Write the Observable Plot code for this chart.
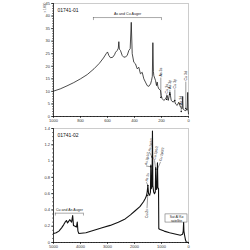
<!DOCTYPE html>
<html><head><meta charset="utf-8">
<script src="https://cdn.jsdelivr.net/npm/d3@7"></script>
<script src="https://cdn.jsdelivr.net/npm/@observablehq/plot@0.6"></script>
<style>body{margin:0;background:#fff}#c svg{display:block}</style>
</head><body><div id="c"></div>
<script>
// ---- Panel 1 (01741-01) ----
const topEnergy = [1000,950,900,850,800,750,700,660,630,610,600,590,578,561,548,540,528,520,516,512,504,491,479,465,454,442,432,424,417,405,393,380,368,356,343,331,319,306,294,281,274,268,264,260,257,244,237,232,227,220,212,207,202,196,183,170,158,150,138,128,113,104,96,84,72,59,47,43,40,30,20,14,10,6,3,0];
const topCounts = [10.1,11.0,12.2,13.5,15.0,16.7,19.0,21.2,23.3,25.0,25.7,24.3,23.4,23.6,24.6,25.6,26.3,27.2,29.8,26.8,26.3,24.3,23.6,23.8,24.3,26.3,27.0,37.5,25.0,21.6,21.0,19.0,19.6,17.0,17.6,15.0,13.7,12.3,12.0,13.0,14.3,16.0,29.4,18.0,16.3,14.3,12.3,13.7,12.0,11.0,10.6,10.4,8.4,7.2,6.4,7.0,8.4,6.4,9.7,6.4,5.7,6.4,5.0,4.4,5.7,3.7,3.1,8.0,3.0,2.5,2.3,3.0,2.5,9.6,3.0,1.0];
const topLabels = ["As 3s","Cu 3s","As 3p","Cu 3p","As 3d","Cu 3d"];
const topLabelE = [205,162,138,101,54,20];
const topLabelText = [15.9,9.2,11.0,11.2,4.6,14.3];
const topLabelDot = [7.6,6.8,8.8,6.4,2.0,3.2];
const topAuger = "As and Cu Auger";
const topAugerRange = [704,200];
const topAugerY = 39.4;
const topXTicks = [1000,800,600,400,200,0];
const topYTicks = [0,5,10,15,20,25,30,35,40,45];

// ---- Panel 2 (01741-02) ----
const botEnergy = [5000,4900,4800,4700,4620,4570,4520,4480,4440,4400,4330,4290,4260,4200,4150,4120,4095,4060,3800,3500,3200,2900,2600,2345,2150,1975,1800,1667,1600,1560,1530,1505,1480,1440,1410,1395,1380,1350,1335,1320,1290,1260,1230,1215,1200,1170,1150,1135,1110,1100,1050,900,700,500,300,220,195,180,170,140,110,80,0];
const botCounts = [0.11,0.12,0.14,0.18,0.22,0.25,0.27,0.24,0.26,0.28,0.25,0.33,0.21,0.20,0.19,0.25,0.14,0.11,0.12,0.15,0.18,0.21,0.25,0.29,0.34,0.39,0.44,0.50,0.54,0.57,0.62,0.70,0.60,0.58,0.62,0.95,0.66,0.70,1.37,0.70,0.62,0.60,0.62,0.92,0.65,0.66,0.98,0.68,0.66,0.17,0.16,0.14,0.12,0.105,0.09,0.10,0.14,0.25,0.14,0.08,0.03,0.005,0];
const botLabels = ["As 2p1/2","As 2p3/2","Cu 2p1/2","Cu 2p3/2","As 2s"];
const botLabelE = [1574,1444,1259,1037,1556];
const botLabelText = [0.95,1.12,1.02,1.00,0.75];
const botLabelDotE = [1395,1352,1215,1150,1505];
const botLabelDot = [0.93,1.05,0.90,0.90,0.70];
const botLabelBelow = "Cu 2s";
const botAuger = "Cu and As Auger";
const botAugerRange = [4930,3890];
const botAugerY = 0.36;
const satLines = ["Sat Al K\u03b1","satellite"];
const botXTicks = [5000,4000,3000,2000,1000,0];
const botYTicks = [0,0.2,0.4,0.6,0.8,1,1.2,1.4];

const font = "Liberation Sans, Arial, sans-serif";

function axes(xDom, yDom, xMajor, xMinor, yMajor, yMinor) {
  return [
    Plot.frame({stroke: "#aaa", strokeWidth: 0.6}),
    Plot.axisX(xMinor, {tickSize: 1, tickFormat: () => "", strokeWidth: 0.5}),
    Plot.axisX(xMajor, {tickSize: 2, tickPadding: 0.5, strokeWidth: 0.6, fill: "#333", fontSize: 4, tickFormat: d => String(d)}),
    Plot.axisY(yMinor, {tickSize: 1, tickFormat: () => "", strokeWidth: 0.5}),
    Plot.axisY(yMajor, {tickSize: 2, tickPadding: 1.5, strokeWidth: 0.6, fill: "#333", fontSize: 4, tickFormat: d => String(+(+d).toFixed(1))}),
    Plot.ruleX([xDom[0]], {stroke: "#000", strokeWidth: 0.7}),
    Plot.ruleY([yDom[0]], {stroke: "#000", strokeWidth: 0.7})
  ];
}

// Top panel
const topData = topEnergy.map((e, i) => ({e, c: topCounts[i]}));
const topLab = topLabels.map((t, i) => ({t, e: topLabelE[i], yt: topLabelText[i], yd: topLabelDot[i]}));
const p1 = Plot.plot({
  width: 250, height: 125,
  marginLeft: 53, marginRight: 62, marginTop: 3, marginBottom: 9,
  style: {fontSize: "4px", fontFamily: font, background: "#fff"},
  x: {domain: [1000, 0], label: null},
  y: {domain: [0, 45], label: null},
  marks: [
    ...axes([1000,0],[0,45], topXTicks, d3.range(0, 1001, 25), topYTicks, d3.range(0, 46, 1)),
    Plot.line(topData, {x: "e", y: "c", stroke: "#111", strokeWidth: 0.75}),
    Plot.link(topLab, {x1: "e", x2: "e", y1: "yd", y2: d => d.yt - 0.4, stroke: "#222", strokeWidth: 0.45}),
    Plot.dot(topLab, {x: "e", y: "yd", r: 0.7, fill: "#000"}),
    Plot.text(topLab, {x: "e", y: "yt", text: "t", rotate: -90, textAnchor: "start", fontSize: 3.6, fill: "#222"}),
    Plot.ruleY([topAugerY], {x1: topAugerRange[0], x2: topAugerRange[1], stroke: "#555", strokeWidth: 0.5}),
    Plot.ruleX(topAugerRange, {y1: topAugerY - 1.2, y2: topAugerY, stroke: "#555", strokeWidth: 0.5}),
    Plot.text([topAuger], {x: (topAugerRange[0] + topAugerRange[1]) / 2, y: topAugerY + 1.3, fontSize: 3.6, fill: "#222"}),
    Plot.text(["01741-01"], {frameAnchor: "top-left", dx: 4, dy: 5, fontSize: 5, fill: "#111"}),
    Plot.text(["x 1000"], {frameAnchor: "top-left", dx: -10, dy: 9, rotate: -90, fontSize: 3.3, fill: "#666"})
  ]
});

// Bottom panel
const botData = botEnergy.map((e, i) => ({e, c: botCounts[i]}));
const botLab = botLabels.map((t, i) => ({t, e: botLabelE[i], yt: botLabelText[i], de: botLabelDotE[i], yd: botLabelDot[i]}));
const p2 = Plot.plot({
  width: 250, height: 125,
  marginLeft: 53, marginRight: 62, marginTop: 3, marginBottom: 8,
  style: {fontSize: "4px", fontFamily: font, background: "#fff"},
  x: {domain: [5000, 0], label: null},
  y: {domain: [0, 1.4], label: null},
  marks: [
    ...axes([5000,0],[0,1.4], botXTicks, d3.range(0, 5001, 100), botYTicks, d3.range(0, 1.41, 0.05)),
    Plot.line(botData, {x: "e", y: "c", stroke: "#111", strokeWidth: 1.1}),
    Plot.link(botLab, {x1: "e", y1: d => d.yt - 0.01, x2: "de", y2: "yd", stroke: "#222", strokeWidth: 0.45}),
    Plot.dot(botLab, {x: "de", y: "yd", r: 0.7, fill: "#000"}),
    Plot.text(botLab, {x: "e", y: "yt", text: "t", rotate: -80, textAnchor: "start", fontSize: 3.4, fill: "#222"}),
    Plot.link([{x1: 1537, y1: 0.42, x2: 1510, y2: 0.58}], {x1: "x1", y1: "y1", x2: "x2", y2: "y2", stroke: "#222", strokeWidth: 0.45}),
    Plot.dot([{x: 1510, y: 0.58}], {x: "x", y: "y", r: 0.7, fill: "#000"}),
    Plot.text([botLabelBelow], {x: 1537, y: 0.41, rotate: -90, textAnchor: "end", fontSize: 3.4, fill: "#222"}),
    Plot.ruleY([botAugerY], {x1: botAugerRange[0], x2: botAugerRange[1], stroke: "#555", strokeWidth: 0.5}),
    Plot.ruleX(botAugerRange, {y1: botAugerY - 0.035, y2: botAugerY, stroke: "#555", strokeWidth: 0.5}),
    Plot.text([botAuger], {x: (botAugerRange[0] + botAugerRange[1]) / 2, y: botAugerY + 0.035, fontSize: 3.6, fill: "#222"}),
    Plot.rect([{x1: 852, x2: 37, y1: 0.245, y2: 0.345}], {x1: "x1", x2: "x2", y1: "y1", y2: "y2", fill: "#fff", stroke: "#555", strokeWidth: 0.5}),
    Plot.text(satLines, {x: 444, y: (d, i) => [0.315, 0.27][i], fontSize: 3.3, fill: "#222"}),
    Plot.text(["01741-02"], {frameAnchor: "top-left", dx: 4, dy: 5, fontSize: 5, fill: "#111"})
  ]
});

const c = document.getElementById("c");
c.appendChild(p1);
c.appendChild(p2);
</script>
</body></html>
